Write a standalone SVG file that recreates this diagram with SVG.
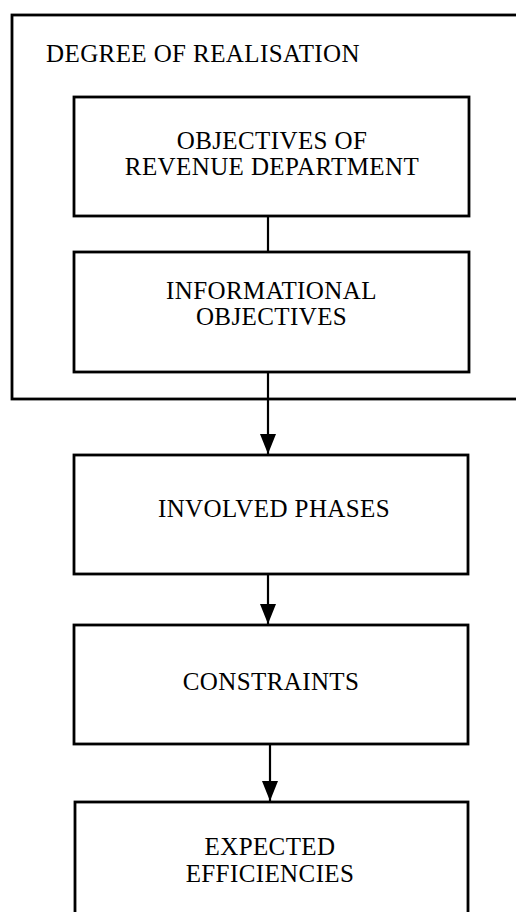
<svg xmlns="http://www.w3.org/2000/svg" width="516" height="912" viewBox="0 0 516 912">
  <defs>
    <!-- solid triangular head, drawn pointing along +x so orient="auto" turns it down the line -->
    <marker id="arrow" viewBox="0 0 20 16" refX="20" refY="8" markerWidth="20" markerHeight="16" markerUnits="userSpaceOnUse" orient="auto">
      <path d="M0,0 L20,8 L0,16 Z" fill="#000"/>
    </marker>
    <style>
      .box { fill: none; stroke: #000; stroke-width: 2.8; }
      .lbl { font-family: "Liberation Serif", "Times New Roman", serif; font-size: 25px; letter-spacing: 0.4px; fill: #000; text-anchor: middle; }
      .title { font-family: "Liberation Serif", "Times New Roman", serif; font-size: 25px; letter-spacing: 0.4px; fill: #000; }
      .link { fill: none; stroke: #000; stroke-width: 2.2; }
    </style>
  </defs>
  <rect width="516" height="912" fill="#fff"/>

  <!-- container: degree of realisation -->
  <g id="degree-of-realisation">
    <rect class="box" x="12" y="15" width="520" height="384"/>
    <text class="title" x="46" y="62">DEGREE OF REALISATION</text>
  </g>

  <g id="objectives-revenue">
    <rect class="box" x="74" y="97" width="395" height="119"/>
    <text class="lbl" x="272" y="149">OBJECTIVES OF</text>
    <text class="lbl" x="272" y="175">REVENUE DEPARTMENT</text>
  </g>

  <g id="informational-objectives">
    <rect class="box" x="74" y="252" width="395" height="120"/>
    <text class="lbl" x="271.5" y="299">INFORMATIONAL</text>
    <text class="lbl" x="271.5" y="325">OBJECTIVES</text>
  </g>

  <g id="involved-phases">
    <rect class="box" x="74" y="455" width="394" height="119"/>
    <text class="lbl" x="274" y="517">INVOLVED PHASES</text>
  </g>

  <g id="constraints">
    <rect class="box" x="74" y="625" width="394" height="119"/>
    <text class="lbl" x="271" y="690">CONSTRAINTS</text>
  </g>

  <g id="expected-efficiencies">
    <rect class="box" x="75" y="802" width="393" height="130"/>
    <text class="lbl" x="270" y="855">EXPECTED</text>
    <text class="lbl" x="270" y="882">EFFICIENCIES</text>
  </g>

  <!-- connectors -->
  <g id="connectors">
    <line class="link" x1="268" y1="216" x2="268" y2="252"/>
    <line class="link" x1="268" y1="372" x2="268" y2="454" marker-end="url(#arrow)"/>
    <line class="link" x1="268" y1="574" x2="268" y2="624" marker-end="url(#arrow)"/>
    <line class="link" x1="270" y1="744" x2="270" y2="801" marker-end="url(#arrow)"/>
  </g>
</svg>
